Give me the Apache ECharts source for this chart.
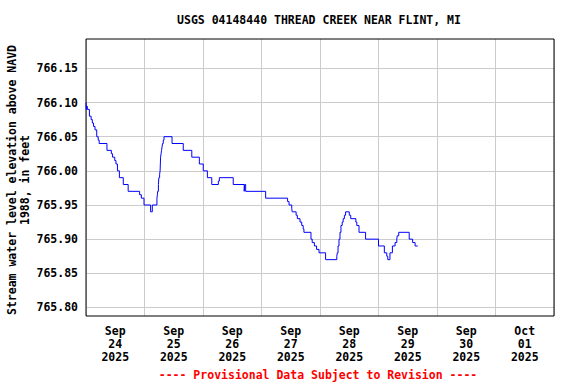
<!DOCTYPE html>
<html>
<head>
<meta charset="utf-8">
<script src="https://cdn.jsdelivr.net/npm/echarts@6/dist/echarts.min.js"></script>
<style>
html,body{margin:0;padding:0;background:#fff;}
#chart{width:576px;height:384px;}
</style>
</head>
<body>
<div id="chart"></div>
<script>
// ---- data ----
const titleText = 'USGS 04148440 THREAD CREEK NEAR FLINT, MI';
const yAxisTitle = ['Stream water level elevation above NAVD', '1988, in feet'];
const captionText = '---- Provisional Data Subject to Revision ----';

const dayMonths = ['Sep', 'Sep', 'Sep', 'Sep', 'Sep', 'Sep', 'Sep', 'Oct'];
const dayNums = ['24', '25', '26', '27', '28', '29', '30', '01'];
const dayYears = ['2025', '2025', '2025', '2025', '2025', '2025', '2025', '2025'];

// hours since 2025-09-24 00:00, value holds until next time
const hours = [
  0, 0.1, 0.4, 0.6, 1.4, 2.1, 2.6, 3.1, 3.7, 4.4, 5.0, 5.4, 8.6, 10.4, 10.9, 11.8, 12.3, 12.9, 13.7, 15.3,
  17.3, 22.0, 22.7, 23.8, 26.5, 27.2, 29.1, 29.3, 29.4, 29.7, 29.9, 30.2, 30.4, 30.5, 30.6, 30.8, 31.0, 31.2, 31.4, 31.7,
  32.0, 35.3, 39.9, 43.4, 46.5, 48.1, 49.8, 51.6, 54.3, 54.7, 60.4, 64.9, 65.1, 65.5, 73.7, 82.7, 83.3, 84.4, 84.6, 86.2,
  86.7, 87.8, 88.5, 89.1, 89.4, 92.3, 92.8, 93.7, 94.6, 95.6, 98.3, 102.9, 103.1, 103.4, 103.8, 104.2, 104.6, 105.1, 105.5, 106.0,
  106.5, 108.0, 108.6, 110.7, 111.1, 112.0, 114.7, 120.0, 122.4, 123.4, 123.8, 124.7, 125.7, 126.8, 127.5, 127.7, 128.3, 132.6, 134.0, 135.0,
  136.1
];
const levels = [
  766.10, 766.09, 766.095, 766.09, 766.08, 766.075, 766.07, 766.065, 766.06, 766.05, 766.045, 766.04, 766.03, 766.025, 766.02, 766.015, 766.01, 766.00, 765.99, 765.98,
  765.97, 765.965, 765.96, 765.95, 765.94, 765.95, 765.96, 765.965, 765.97, 765.98, 765.99, 765.995, 766.00, 766.01, 766.02, 766.025, 766.03, 766.035, 766.04, 766.045,
  766.05, 766.04, 766.03, 766.02, 766.01, 766.00, 765.99, 765.98, 765.985, 765.99, 765.98, 765.97, 765.98, 765.97, 765.96, 765.955, 765.95, 765.945, 765.94, 765.935,
  765.93, 765.925, 765.92, 765.915, 765.91, 765.90, 765.895, 765.89, 765.885, 765.88, 765.87, 765.875, 765.88, 765.89, 765.90, 765.91, 765.92, 765.925, 765.93, 765.935,
  765.94, 765.935, 765.93, 765.925, 765.92, 765.91, 765.90, 765.89, 765.88, 765.875, 765.87, 765.88, 765.89, 765.895, 765.90, 765.905, 765.91, 765.90, 765.895, 765.89,
  765.89
];

// ---- layout ----
const FONT = '"DejaVu Sans Mono", "Liberation Mono", monospace';
const FS = 11.5;
const gLeft = 86, gTop = 39, gWidth = 468, gHeight = 277;
const yMin = 765.7875, yMax = 766.193;
const tickMin = 765.80, tickMax = 766.15, tickStep = 0.05;
const xMax = 192;
const pxPerFt = gHeight / (yMax - yMin);
const lTop = gTop + (yMax - tickMax) * pxPerFt;
const lHeight = (tickMax - tickMin) * pxPerFt;

const seriesData = hours.map((h, i) => [h, levels[i]]);

const chart = echarts.init(document.getElementById('chart'), null, {renderer: 'svg', width: 576, height: 384});
const gridColor = '#cccccc';

chart.setOption({
  animation: false,
  backgroundColor: '#ffffff',
  grid: [
    {left: gLeft, top: gTop, width: gWidth, height: gHeight, show: true, borderColor: '#000000', borderWidth: 1, backgroundColor: 'transparent', z: 5},
    {left: gLeft, top: lTop, width: gWidth, height: lHeight, show: false}
  ],
  xAxis: [
    {gridIndex: 0, type: 'value', min: 0, max: xMax, interval: 24,
     axisLine: {show: false}, axisTick: {show: false}, axisLabel: {show: false},
     splitLine: {show: true, lineStyle: {color: gridColor, width: 1}}},
    {gridIndex: 0, type: 'value', min: 0, max: xMax, interval: 12, position: 'bottom',
     axisLine: {show: false}, axisTick: {show: false}, splitLine: {show: false},
     axisLabel: {show: true, margin: 8, color: '#000', fontFamily: FONT, fontWeight: 'bold', fontSize: FS, lineHeight: 13,
       showMinLabel: true, showMaxLabel: true,
       formatter: function (v) {
         if (Math.round(v) % 24 !== 12) return '';
         const i = Math.floor(v / 24);
         return dayMonths[i] + '\n' + dayNums[i] + '\n' + dayYears[i];
       }}},
    {gridIndex: 1, type: 'value', min: 0, max: 1, show: false}
  ],
  yAxis: [
    {gridIndex: 0, type: 'value', min: yMin, max: yMax,
     axisLine: {show: false}, axisTick: {show: false}, axisLabel: {show: false}, splitLine: {show: false}},
    {gridIndex: 1, type: 'value', min: tickMin, max: tickMax, interval: tickStep,
     axisLine: {show: false}, axisTick: {show: false},
     splitLine: {show: true, lineStyle: {color: gridColor, width: 1}},
     axisLabel: {show: true, margin: 8, color: '#000', fontFamily: FONT, fontWeight: 'bold', fontSize: FS,
       formatter: function (v) { return v.toFixed(2); }}}
  ],
  series: [{
    type: 'line', xAxisIndex: 0, yAxisIndex: 0, data: seriesData, step: 'end',
    showSymbol: false, symbol: 'none', clip: true, z: 10,
    lineStyle: {color: '#0000ff', width: 1}
  }],
  graphic: [
    {type: 'text', x: 319, y: 20, style: {text: titleText, fill: '#000', font: 'bold ' + FS + 'px ' + FONT, textAlign: 'center', textVerticalAlign: 'middle'}},
    {type: 'text', x: 318, y: 375, style: {text: captionText, fill: '#ff0000', font: 'bold ' + FS + 'px ' + FONT, textAlign: 'center', textVerticalAlign: 'middle'}},
    {type: 'text', x: 12, y: 180, rotation: Math.PI / 2, style: {text: yAxisTitle[0], fill: '#000', font: 'bold ' + FS + 'px ' + FONT, textAlign: 'center', textVerticalAlign: 'middle'}},
    {type: 'text', x: 25, y: 180, rotation: Math.PI / 2, style: {text: yAxisTitle[1], fill: '#000', font: 'bold ' + FS + 'px ' + FONT, textAlign: 'center', textVerticalAlign: 'middle'}}
  ]
});
</script>
</body>
</html>
